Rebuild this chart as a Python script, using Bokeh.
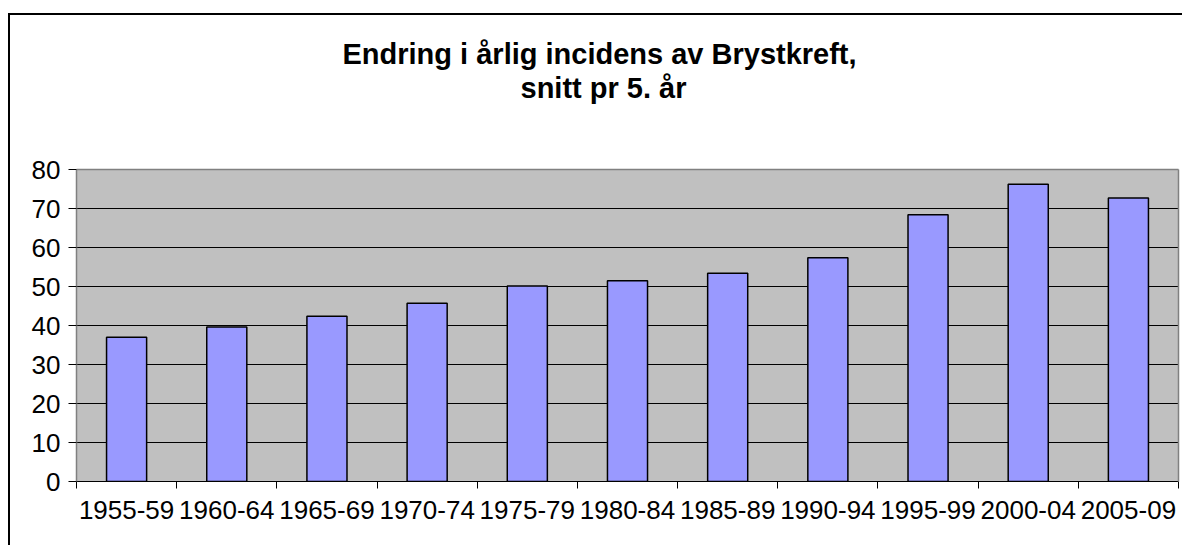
from bokeh.plotting import figure
from bokeh.models import (ColumnDataSource, Range1d, LinearAxis, FixedTicker, Title)
from bokeh.embed import file_html
from bokeh.resources import INLINE

# ---- data ----
periods = ["1955-59", "1960-64", "1965-69", "1970-74", "1975-79", "1980-84",
           "1985-89", "1990-94", "1995-99", "2000-04", "2005-09"]
incidence = [37.0, 39.6, 42.4, 45.7, 50.1, 51.5, 53.4, 57.4, 68.4, 76.2, 72.7]
y_ticks = [0, 10, 20, 30, 40, 50, 60, 70, 80]
title_line1 = "Endring i årlig incidens av Brystkreft,"
title_line2 = "snitt pr 5. år"

FONT = "Liberation Sans"

n = len(periods)
centers = [i + 0.5 for i in range(n)]
edges = list(range(n + 1))

source = ColumnDataSource(data=dict(x=centers, period=periods, value=incidence))

p = figure(x_range=Range1d(0, n), y_range=Range1d(0, 80),
           width=1174, height=532,
           output_backend="svg", toolbar_location=None,
           x_axis_location=None, y_axis_location=None,
           min_border_left=66, min_border_right=6,
           min_border_top=154, min_border_bottom=66)

p.styles = {"border-left": "2px solid black", "border-top": "2px solid black",
            "margin-top": "13px", "margin-left": "8px"}

p.background_fill_color = "#C0C0C0"
p.border_fill_color = "white"
p.outline_line_color = None

p.vbar(x="x", top="value", width=0.4, source=source,
       fill_color="#9999FF", line_color="black", line_width=1.5)

# y axis
yaxis = LinearAxis(ticker=FixedTicker(ticks=y_ticks))
yaxis.major_tick_out = 8
yaxis.major_tick_in = 0
yaxis.minor_tick_line_color = None
yaxis.axis_line_color = "#808080"
yaxis.axis_line_width = 1.5
yaxis.major_tick_line_color = "black"
yaxis.major_label_text_font = FONT
yaxis.major_label_text_font_size = "26px"
yaxis.major_label_text_color = "black"
yaxis.major_label_standoff = 8
p.add_layout(yaxis, "left")


def edge_axis(axis):
    axis.ticker = FixedTicker(ticks=[])
    axis.major_tick_line_color = None
    axis.minor_tick_line_color = None
    axis.major_tick_out = 0
    axis.major_tick_in = 0
    axis.major_label_text_font_size = "0px"
    axis.major_label_standoff = 0
    axis.axis_line_color = "#808080"
    axis.axis_line_width = 1.5
    return axis


# frame edges: right and top in grey
p.add_layout(edge_axis(LinearAxis()), "right")
p.add_layout(edge_axis(LinearAxis()), "above")

# grid
p.xgrid.grid_line_color = None
p.ygrid.ticker = FixedTicker(ticks=y_ticks[:-1])
p.ygrid.grid_line_color = "black"
p.ygrid.grid_line_width = 1

# x axis: labels at category centres, tick marks at category boundaries
xaxis = LinearAxis(ticker=FixedTicker(ticks=centers, minor_ticks=edges))
xaxis.major_label_overrides = {c: lab for c, lab in zip(centers, periods)}
xaxis.major_tick_line_color = None
xaxis.major_tick_out = 0
xaxis.major_tick_in = 0
xaxis.minor_tick_out = 7
xaxis.minor_tick_in = 0
xaxis.minor_tick_line_color = "black"
xaxis.axis_line_color = "black"
xaxis.major_label_text_font = FONT
xaxis.major_label_text_font_size = "26px"
xaxis.major_label_text_color = "black"
xaxis.major_label_standoff = 12
p.add_layout(xaxis, "below")

# titles (first added is closest to frame); a tiny spacer keeps them up
spacer = Title(text=" ", text_font_size="1px", standoff=63)
t2 = Title(text=title_line2, align="left", offset=444, text_font=FONT,
           text_font_size="29px", text_font_style="bold", text_color="black",
           standoff=0)
t1 = Title(text=title_line1, align="left", offset=266, text_font=FONT,
           text_font_size="29px", text_font_style="bold", text_color="black",
           standoff=0)
p.add_layout(spacer, "above")
p.add_layout(t2, "above")
p.add_layout(t1, "above")

open("out.html", "w").write(file_html(p, INLINE))
